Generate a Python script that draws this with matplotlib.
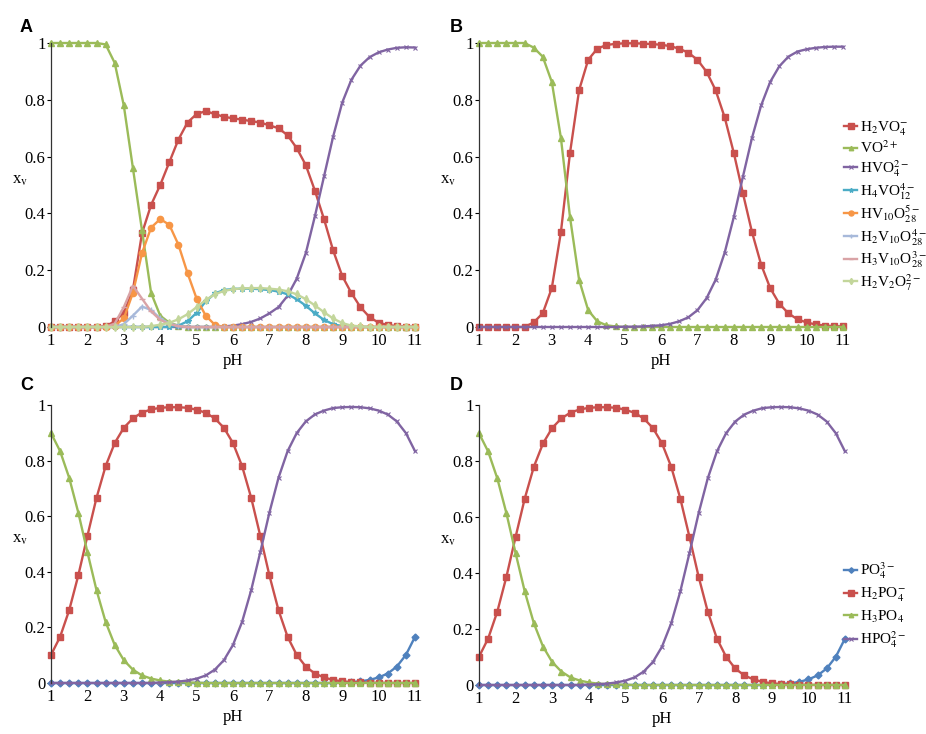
import matplotlib
matplotlib.use("Agg")
import matplotlib.pyplot as plt
import numpy as np

plt.rcParams['font.family'] = ['Liberation Serif', 'DejaVu Serif']
plt.rcParams['mathtext.fontset'] = 'stix'

# pH grid (0.25 steps, 1 .. 11)
ph = np.arange(1, 11.01, 0.25)

# panel A - vanadium speciation, full model
A_h2vo4 = [0, 0, 0, 0, 0, 0, 0.002, 0.02, 0.05, 0.13, 0.33, 0.43, 0.50, 0.58, 0.66, 0.72,
           0.75, 0.76, 0.75, 0.74, 0.735, 0.73, 0.725, 0.72, 0.71, 0.70, 0.675, 0.63, 0.57,
           0.48, 0.38, 0.27, 0.18, 0.12, 0.07, 0.035, 0.015, 0.007, 0.003, 0.001, 0]
A_vo2 = [1, 1, 1, 1, 1, 1, 0.995, 0.93, 0.78, 0.56, 0.34, 0.12, 0.04, 0.015, 0.005] + [0] * 26
A_hvo4 = [0] * 19 + [0.002, 0.005, 0.01, 0.018, 0.03, 0.048, 0.07, 0.11, 0.17, 0.26, 0.39,
                     0.53, 0.67, 0.79, 0.87, 0.92, 0.95, 0.967, 0.977, 0.983, 0.985, 0.984]
A_h4vo12 = [0] * 14 + [0.005, 0.02, 0.05, 0.09, 0.118, 0.13, 0.134, 0.135, 0.135, 0.133, 0.13,
                       0.125, 0.115, 0.098, 0.075, 0.048, 0.025, 0.01, 0.003] + [0] * 8
A_hv10o28 = [0] * 7 + [0.005, 0.03, 0.12, 0.26, 0.35, 0.38, 0.36, 0.29, 0.19, 0.10, 0.04,
                       0.008] + [0] * 22
A_h2v10o28 = [0] * 8 + [0.01, 0.04, 0.072, 0.06, 0.03, 0.012, 0.004] + [0] * 26
A_h3v10o28 = [0] * 7 + [0.012, 0.07, 0.145, 0.10, 0.055, 0.025, 0.01, 0.003] + [0] * 26
A_h2v2o7 = [0] * 11 + [0.003, 0.008, 0.015, 0.027, 0.045, 0.07, 0.095, 0.115, 0.127, 0.133,
                       0.136, 0.137, 0.137, 0.135, 0.132, 0.126, 0.115, 0.098, 0.076, 0.052,
                       0.03, 0.014, 0.005, 0.002] + [0] * 6

# panel B - vanadium, simple model
B_h2vo4 = [0] * 6 + [0.016, 0.048, 0.137, 0.334, 0.613, 0.834, 0.941, 0.98, 0.993, 0.997,
                     0.999, 0.999, 0.998, 0.996, 0.994, 0.989, 0.98, 0.966, 0.941, 0.899,
                     0.834, 0.738, 0.613, 0.471, 0.334, 0.22, 0.137, 0.082, 0.048, 0.027,
                     0.016, 0.009, 0.005, 0.003, 0.002]
B_vo2 = [1] * 6 + [0.984, 0.952, 0.863, 0.666, 0.387, 0.166, 0.059, 0.02, 0.006, 0.002] + [0] * 25
B_hvo4 = [0] * 16 + [0.001, 0.001, 0.002, 0.004, 0.006, 0.011, 0.02, 0.034, 0.059, 0.101,
                     0.166, 0.262, 0.387, 0.529, 0.666, 0.78, 0.863, 0.918, 0.952, 0.97,
                     0.978, 0.983, 0.986, 0.987, 0.987]

# panels C and D - phosphate
po4 = [0] * 32 + [0.002, 0.0035, 0.006, 0.011, 0.02, 0.034, 0.059, 0.101, 0.166]
h2po4 = [0.101, 0.166, 0.262, 0.387, 0.529, 0.666, 0.78, 0.863, 0.918, 0.952,
         0.973, 0.984, 0.99, 0.992, 0.992, 0.99, 0.983, 0.972, 0.952, 0.918,
         0.863, 0.78, 0.666, 0.529, 0.387, 0.262, 0.166, 0.101, 0.059, 0.034,
         0.02, 0.011, 0.006, 0.0035, 0.002, 0.001, 0.0006, 0.0003, 0.0002, 0.0001, 0]
h3po4 = [0.899, 0.834, 0.738, 0.613, 0.471, 0.334, 0.22, 0.137, 0.082, 0.048,
         0.027, 0.016, 0.009, 0.005, 0.003, 0.002, 0.001] + [0] * 24
hpo4 = [0] * 12 + [0.0016, 0.0028, 0.005, 0.009, 0.0156, 0.027, 0.048, 0.082, 0.137, 0.22,
                   0.334, 0.471, 0.613, 0.738, 0.834, 0.899, 0.941, 0.966, 0.98, 0.989,
                   0.992, 0.993, 0.992, 0.988, 0.98, 0.966, 0.941, 0.899, 0.834]

RED = '#C9504D'
GREEN = '#9BBB59'
PURPLE = '#8064A2'
AQUA = '#4BACC6'
ORANGE = '#F79646'
BLUE = '#4F81BD'
LBLUE = '#A7B9DA'
PINK = '#D9A3A6'
LGREEN = '#C3D69B'

STY = {
    'red': dict(color=RED, marker='s', ms=5),
    'green': dict(color=GREEN, marker='^', ms=4),
    'purple': dict(color=PURPLE, marker='x', ms=3.5, mew=0.8),
    'aqua': dict(color=AQUA, marker='*', ms=4),
    'orange': dict(color=ORANGE, marker='o', ms=4.5),
    'lblue': dict(color=LBLUE, marker='+', ms=4),
    'pink': dict(color=PINK, marker='_', ms=4),
    'lgreen': dict(color=LGREEN, marker='d', ms=4),
    'blue': dict(color=BLUE, marker='D', ms=3.5),
}


def draw(ax, y, key, label):
    ax.plot(ph, y, lw=1.7, clip_on=False, label=label, **STY[key])


def style(ax):
    ax.set_xlim(1, 11)
    ax.set_ylim(0, 1)
    ax.set_xticks(range(1, 12))
    ax.set_yticks([0, 0.2, 0.4, 0.6, 0.8, 1])
    ax.set_yticklabels(['0', '0.2', '0.4', '0.6', '0.8', '1'])
    for s in ['top', 'right', 'bottom']:
        ax.spines[s].set_visible(False)
    ax.spines['left'].set_color('#333333')
    ax.spines['left'].set_linewidth(0.9)
    ax.tick_params(axis='x', length=0, pad=4, labelsize=12)
    ax.tick_params(axis='y', length=3, width=0.8, pad=1, labelsize=12)
    ax.set_xlabel('pH', fontsize=12, labelpad=3)
    ax.set_ylabel(r'x$_\mathrm{v}$', rotation=0, fontsize=12)
    ax.yaxis.set_label_coords(-0.085, 0.49)


fig = plt.figure(figsize=(9.26, 7.34), dpi=100)
W, H = 926, 734
axA = fig.add_axes([51 / W, 1 - 327 / H, 364 / W, 284 / H])
axB = fig.add_axes([479 / W, 1 - 327 / H, 364 / W, 284 / H])
axC = fig.add_axes([51 / W, 1 - 683 / H, 364 / W, 278 / H])
axD = fig.add_axes([479 / W, 1 - 685 / H, 366 / W, 280 / H])

# A
draw(axA, A_h2vo4, 'red', r'H$_2$VO$_4^{-}$')
draw(axA, A_vo2, 'green', r'VO$^{2+}$')
draw(axA, A_hvo4, 'purple', r'HVO$_4^{2-}$')
draw(axA, A_h4vo12, 'aqua', r'H$_4$VO$_{12}^{4-}$')
draw(axA, A_hv10o28, 'orange', r'HV$_{10}$O$_{28}^{5-}$')
draw(axA, A_h2v10o28, 'lblue', r'H$_2$V$_{10}$O$_{28}^{4-}$')
draw(axA, A_h3v10o28, 'pink', r'H$_3$V$_{10}$O$_{28}^{3-}$')
draw(axA, A_h2v2o7, 'lgreen', r'H$_2$V$_2$O$_7^{2-}$')

# B
draw(axB, B_h2vo4, 'red', None)
draw(axB, B_vo2, 'green', None)
draw(axB, B_hvo4, 'purple', None)

# C and D
for ax in (axC, axD):
    draw(ax, po4, 'blue', r'PO$_4^{3-}$')
    draw(ax, h2po4, 'red', r'H$_2$PO$_4^{-}$')
    draw(ax, h3po4, 'green', r'H$_3$PO$_4$')
    draw(ax, hpo4, 'purple', r'HPO$_4^{2-}$')

for ax in (axA, axB, axC, axD):
    style(ax)

h, l = axA.get_legend_handles_labels()
fig.legend(h, l, loc='upper left', bbox_to_anchor=(836 / W, 1 - 112 / H),
           frameon=False, fontsize=11, handlelength=0.9, handletextpad=0.2,
           labelspacing=0.12, borderpad=0, markerscale=0.8)
h, l = axC.get_legend_handles_labels()
fig.legend(h, l, loc='upper left', bbox_to_anchor=(836 / W, 1 - 553 / H),
           frameon=False, fontsize=11, handlelength=0.9, handletextpad=0.2,
           labelspacing=0.3, borderpad=0, markerscale=0.8)

for txt, x, y in [('A', 20, 32), ('B', 450, 32), ('C', 20, 390), ('D', 450, 390)]:
    fig.text(x / W, 1 - y / H, txt, fontsize=13, fontweight='bold',
             family='Liberation Sans', va='baseline')

fig.savefig('out.png', dpi=100)
